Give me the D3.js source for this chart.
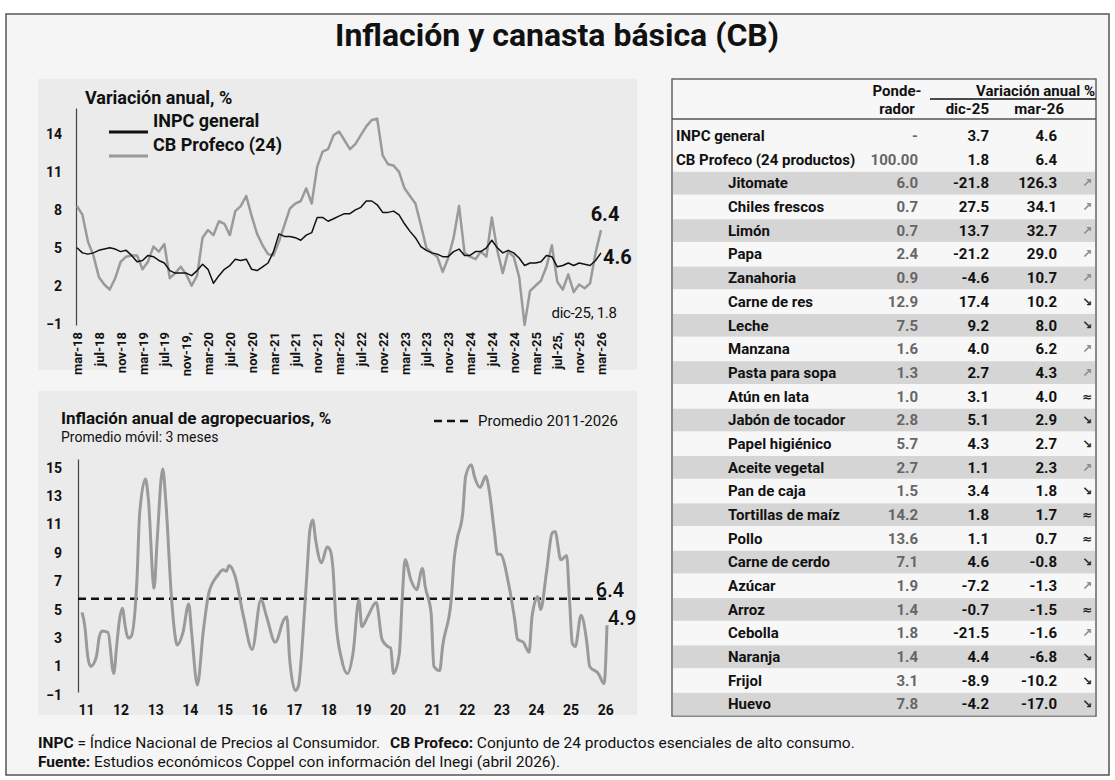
<!DOCTYPE html>
<html>
<head>
<meta charset="utf-8">
<script src="https://cdn.jsdelivr.net/npm/d3@7"></script>
<style>
  body { margin: 0; background: #fff; }
  text { font-family: Roboto, "Noto Sans", sans-serif; }
</style>
</head>
<body>
<div id="chart"></div>
<script>
// ---- data: variación anual INPC y CB Profeco, mar-18 .. mar-26 (mensual)
var inpc = [5.0, 4.6, 4.5, 4.6, 4.8, 4.9, 5.0, 4.9, 4.7, 4.8,
  4.4, 3.9, 4.0, 4.4, 4.3, 4.0, 3.8, 3.2, 3.0, 3.0, 3.0, 2.8,
  3.2, 3.7, 3.3, 2.2, 2.8, 3.3, 3.6, 4.1, 4.0, 4.1, 3.3, 3.2,
  3.5, 3.8, 4.7, 6.1, 5.9, 5.9, 5.8, 5.6, 6.0, 6.2, 7.4, 7.4,
  7.1, 7.3, 7.5, 7.7, 7.7, 8.0, 8.2, 8.7, 8.7, 8.4, 7.8, 7.8,
  7.9, 7.6, 6.9, 6.3, 5.8, 5.1, 4.8, 4.6, 4.5, 4.3, 4.3, 4.7,
  4.9, 4.4, 4.4, 4.7, 4.7, 5.0, 5.6, 5.0, 4.6, 4.8, 4.6, 4.2,
  3.6, 3.8, 3.8, 3.9, 4.4, 4.3, 3.5, 3.6, 3.8, 3.6, 3.8, 3.7,
  3.6, 4.0, 4.6];

var cbProfeco = [8.3, 7.6, 5.5, 4.4, 2.7, 2.1, 1.7, 2.6, 3.9, 4.3,
  4.4, 4.4, 3.3, 3.9, 5.1, 4.7, 5.3, 2.6, 3.0, 3.5, 2.9, 2.0,
  2.8, 5.8, 6.4, 6.0, 7.1, 6.9, 6.0, 7.9, 8.3, 9.1, 7.5, 6.1,
  5.2, 4.5, 4.4, 5.5, 6.8, 8.1, 8.5, 8.7, 9.7, 8.5, 11.4, 12.6,
  12.8, 13.9, 14.2, 13.5, 12.8, 13.2, 13.9, 14.6, 15.1, 15.2, 12.3, 11.6,
  11.5, 11.0, 9.7, 9.1, 8.5, 6.8, 5.0, 4.6, 4.3, 3.1, 4.2, 5.8,
  8.3, 4.6, 4.3, 4.1, 4.7, 4.3, 7.4, 4.8, 3.0, 4.7, 4.3, 2.7,
  -1.1, 1.6, 2.0, 2.4, 3.5, 5.2, 2.3, 1.7, 2.9, 1.5, 2.1, 1.8,
  2.2, 4.6, 6.4];

var monthLabels = ['mar-18', 'jul-18', 'nov-18', 'mar-19', 'jul-19', 'nov-19,', 'mar-20',
  'jul-20', 'nov-20', 'mar-21', 'jul-21', 'nov-21', 'mar-22', 'jul-22', 'nov-22',
  'mar-23', 'jul-23', 'nov-23', 'mar-24', 'jul-24', 'nov-24', 'mar-25', 'jul-25,',
  'nov-25', 'mar-26'];
var topTicks = [-1, 2, 5, 8, 11, 14];

// ---- data: inflación agropecuaria (prom. móvil 3m), meses desde ene-2011
var agroMonth = [0, 1, 2, 3, 5, 6, 7, 9, 11, 12, 13, 14, 15, 16, 17, 19, 20, 22, 23, 25,
  26, 28, 29, 31, 32, 33, 35, 37, 38, 40, 42, 44, 47, 49, 50, 51, 53, 56, 59, 62,
  64, 67, 70, 71, 72, 74, 75, 77, 78, 79, 80, 81, 83, 85, 86, 87, 88, 90, 92, 94,
  96, 97, 99, 102, 104, 106, 107, 108, 110, 111, 112, 114, 116, 118, 119, 121, 122, 124, 125, 128,
  129, 130, 132, 133, 135, 136, 138, 140, 141, 143, 144, 145, 148, 150, 151, 153, 155, 156, 158, 159,
  161, 163, 164, 166, 168, 169, 170, 171, 173, 175, 176, 179, 181, 182];
var agroValue = [4.8, 3.8, 1.7, 1.0, 1.7, 3.1, 3.5, 3.4, 0.5, 2.4, 4.3, 5.1, 3.8, 3.0, 3.1, 6.9, 11.8, 14.2, 12.8, 6.5,
  9.7, 14.9, 12.8, 5.9, 3.6, 2.5, 3.4, 5.4, 3.4, -0.3, 3.4, 6.2, 7.4, 7.8, 7.7, 8.1, 7.4, 4.5, 2.2, 5.7,
  4.5, 2.7, 4.3, 4.5, 1.5, -0.7, -0.4, 4.5, 7.6, 10.6, 11.3, 9.9, 8.3, 9.4, 9.2, 7.9, 4.3, 1.5, 0.5, 2.0,
  5.7, 3.8, 4.5, 5.5, 2.9, 2.4, 2.3, 0.5, 1.9, 5.7, 8.5, 7.1, 6.4, 7.9, 6.6, 4.8, 1.0, 0.7, 2.4, 5.7,
  8.5, 9.9, 11.8, 14.4, 15.2, 14.4, 13.6, 14.4, 13.6, 10.4, 8.9, 8.9, 6.7, 4.3, 2.9, 2.7, 2.0, 4.5, 5.9, 5.0,
  7.6, 10.4, 10.5, 8.5, 8.8, 5.7, 2.6, 2.4, 4.6, 2.7, 1.0, 0.5, -0.2, 3.9];
var agroAverage = 5.77;
var yearLabels = ['11', '12', '13', '14', '15', '16', '17', '18', '19', '20', '21', '22', '23', '24', '25', '26'];
var bottomTicks = [-1, 1, 3, 5, 7, 9, 11, 13, 15];

// ---- data: tabla
var products = ['INPC general', 'CB Profeco (24 productos)', 'Jitomate', 'Chiles frescos', 'Limón', 'Papa',
  'Zanahoria', 'Carne de res', 'Leche', 'Manzana', 'Pasta para sopa', 'Atún en lata', 'Jabón de tocador',
  'Papel higiénico', 'Aceite vegetal', 'Pan de caja', 'Tortillas de maíz', 'Pollo', 'Carne de cerdo',
  'Azúcar', 'Arroz', 'Cebolla', 'Naranja', 'Frijol', 'Huevo'];
var weights = ['-', '100.00', '6.0', '0.7', '0.7', '2.4', '0.9', '12.9', '7.5', '1.6', '1.3', '1.0', '2.8',
  '5.7', '2.7', '1.5', '14.2', '13.6', '7.1', '1.9', '1.4', '1.8', '1.4', '3.1', '7.8'];
var dic25 = [3.7, 1.8, -21.8, 27.5, 13.7, -21.2, -4.6, 17.4, 9.2, 4.0, 2.7, 3.1, 5.1, 4.3, 1.1, 3.4,
  1.8, 1.1, 4.6, -7.2, -0.7, -21.5, 4.4, -8.9, -4.2];
var mar26 = [4.6, 6.4, 126.3, 34.1, 32.7, 29.0, 10.7, 10.2, 8.0, 6.2, 4.3, 4.0, 2.9, 2.7, 2.3, 1.8,
  1.7, 0.7, -0.8, -1.3, -1.5, -1.6, -6.8, -10.2, -17.0];
var trend = ['', '', '↗', '↗', '↗', '↗', '↗', '↘', '↘', '↗', '↗', '≈', '↘', '↘', '↗', '↘',
  '≈', '≈', '↘', '↗', '≈', '↗', '↘', '↘', '↘'];

var fmt = function(v) { return d3.format('.1f')(v).replace('−', '-'); };

var svg = d3.select('#chart').append('svg')
  .attr('width', 1115)
  .attr('height', 780);

// frame + title
svg.append('rect')
  .attr('x', 6).attr('y', 14).attr('width', 1103).attr('height', 761)
  .style('fill', '#f5f5f5').style('stroke', '#555').style('stroke-width', 1.5);

svg.append('text')
  .attr('x', 557).attr('y', 46)
  .attr('text-anchor', 'middle')
  .style('font-size', '32px').style('font-weight', 'bold').style('fill', '#111')
  .text('Inflación y canasta básica (CB)');

// panels
svg.append('rect').attr('x', 38).attr('y', 79).attr('width', 599).attr('height', 291).style('fill', '#ebebeb');
svg.append('rect').attr('x', 38).attr('y', 391).attr('width', 599).attr('height', 324).style('fill', '#ebebeb');

// ================= top chart
var xTop = d3.scaleLinear().domain([0, 96]).range([77, 601]);
var yTop = d3.scaleLinear().domain([-1.1, 16.05]).range([325, 108]);

var gTop = svg.append('g');

gTop.append('g')
  .attr('transform', 'translate(76,0)')
  .call(d3.axisLeft(yTop).tickValues(topTicks).tickSize(0).tickPadding(14))
  .call(function(g) {
    g.select('.domain').style('stroke', '#444').style('stroke-width', 1.2);
    g.selectAll('text').style('font-size', '14px').style('font-weight', 'bold').style('fill', '#111').style('font-family', 'Roboto');
  });

gTop.append('g')
  .attr('transform', 'translate(0,325)')
  .call(d3.axisBottom(xTop).tickValues(d3.range(0, 97, 4)).tickSize(0)
    .tickFormat(function(d, i) { return monthLabels[i]; }))
  .call(function(g) {
    g.select('.domain').remove();
    g.selectAll('text')
      .attr('transform', 'rotate(-90)')
      .attr('x', -7).attr('y', 0).attr('dy', '0.35em')
      .attr('text-anchor', 'end')
      .style('font-size', '13px').style('font-weight', 'bold').style('fill', '#111').style('font-family', 'Roboto');
  });

var lineTop = d3.line()
  .x(function(d, i) { return xTop(i); })
  .y(function(d) { return yTop(d); });

gTop.append('path').datum(cbProfeco)
  .attr('d', lineTop)
  .style('fill', 'none').style('stroke', '#9a9a9a').style('stroke-width', 2.5).style('stroke-linejoin', 'round');

gTop.append('path').datum(inpc)
  .attr('d', lineTop)
  .style('fill', 'none').style('stroke', '#111').style('stroke-width', 1.5).style('stroke-linejoin', 'round');

gTop.append('text').attr('x', 85).attr('y', 98).attr('dy', '0.35em')
  .style('font-size', '18px').style('font-weight', 'bold').style('fill', '#111')
  .text('Variación anual, %');

// legend
var legendTop = [{label: 'INPC general', color: '#111', y: 121}, {label: 'CB Profeco (24)', color: '#9a9a9a', y: 145}];
gTop.selectAll('.leg-line').data(legendTop).enter().append('line')
  .attr('x1', 109).attr('x2', 148)
  .attr('y1', function(d) { return d.y + 11; }).attr('y2', function(d) { return d.y + 11; })
  .style('stroke', function(d) { return d.color; }).style('stroke-width', 3);
gTop.selectAll('.leg-text').data(legendTop).enter().append('text')
  .attr('x', 153).attr('y', function(d) { return d.y; }).attr('dy', '0.35em')
  .style('font-size', '18px').style('font-weight', 'bold').style('fill', '#111')
  .text(function(d) { return d.label; });

// end labels
var last = inpc.length - 1;
gTop.append('text').attr('x', xTop(last) + 4).attr('y', yTop(cbProfeco[last]) - 16).attr('dy', '0.35em')
  .attr('text-anchor', 'middle')
  .style('font-size', '20px').style('font-weight', 'bold').style('fill', '#111')
  .text(fmt(cbProfeco[last]));
gTop.append('text').attr('x', xTop(last) + 2).attr('y', yTop(inpc[last]) + 4).attr('dy', '0.35em')
  .style('font-size', '20px').style('font-weight', 'bold').style('fill', '#111')
  .text(fmt(inpc[last]));
gTop.append('text').attr('x', xTop(93) + 32).attr('y', yTop(cbProfeco[93]) + 24).attr('dy', '0.35em')
  .attr('text-anchor', 'end')
  .style('font-size', '15px').style('fill', '#111').style('letter-spacing', '-0.3px')
  .text('dic-25, ' + fmt(cbProfeco[93]));

// ================= bottom chart
var xBot = d3.scaleLinear().domain([0, 182]).range([82, 607]);
var yBot = d3.scaleLinear().domain([-0.8, 15.6]).range([692, 459]);

var gBot = svg.append('g');

gBot.append('g')
  .attr('transform', 'translate(78,0)')
  .call(d3.axisLeft(yBot).tickValues(bottomTicks).tickSize(0).tickPadding(16))
  .call(function(g) {
    g.select('.domain').style('stroke', '#444').style('stroke-width', 1.2);
    g.selectAll('text').style('font-size', '14px').style('font-weight', 'bold').style('fill', '#111').style('font-family', 'Roboto');
  });

gBot.append('g')
  .attr('transform', 'translate(0,692)')
  .call(d3.axisBottom(xBot).tickValues(d3.range(0, 181, 12)).tickSize(0)
    .tickFormat(function(d, i) { return yearLabels[i]; }))
  .call(function(g) {
    g.select('.domain').remove();
    g.selectAll('text')
      .attr('x', 4).attr('y', 18).attr('dy', '0.35em')
      .style('font-size', '14px').style('font-weight', 'bold').style('fill', '#111').style('font-family', 'Roboto');
  });

gBot.append('line')
  .attr('x1', 78).attr('x2', xBot(182))
  .attr('y1', yBot(agroAverage)).attr('y2', yBot(agroAverage))
  .style('stroke', '#111').style('stroke-width', 2.5).style('stroke-dasharray', '8,5');

var lineBot = d3.line()
  .x(function(d, i) { return xBot(agroMonth[i]); })
  .y(function(d) { return yBot(d); })
  .curve(d3.curveMonotoneX);

gBot.append('path').datum(agroValue)
  .attr('d', lineBot)
  .style('fill', 'none').style('stroke', '#9a9a9a').style('stroke-width', 3).style('stroke-linejoin', 'round');

gBot.append('text').attr('x', 61).attr('y', 418).attr('dy', '0.35em')
  .style('font-size', '17px').style('font-weight', 'bold').style('fill', '#111')
  .text('Inflación anual de agropecuarios, %');
gBot.append('text').attr('x', 61).attr('y', 437).attr('dy', '0.35em')
  .style('font-size', '14px').style('fill', '#111')
  .text('Promedio móvil: 3 meses');

gBot.append('line').attr('x1', 434).attr('x2', 473).attr('y1', 421).attr('y2', 421)
  .style('stroke', '#111').style('stroke-width', 2.5).style('stroke-dasharray', '8,5');
gBot.append('text').attr('x', 478).attr('y', 421).attr('dy', '0.35em')
  .style('font-size', '15px').style('fill', '#111')
  .text('Promedio 2011-2026');

gBot.append('text').attr('x', xBot(182) + 3).attr('y', yBot(agroAverage) - 9).attr('dy', '0.35em')
  .attr('text-anchor', 'middle')
  .style('font-size', '20px').style('font-weight', 500).style('fill', '#111')
  .text('6.4');
gBot.append('text').attr('x', xBot(182) + 1).attr('y', yBot(agroValue[agroValue.length - 1]) - 7).attr('dy', '0.35em')
  .style('font-size', '20px').style('font-weight', 500).style('fill', '#111')
  .text('4.9');

// ================= table
var yRow = d3.scaleBand().domain(d3.range(products.length)).range([124, 716]);
var gTab = svg.append('g');

gTab.append('rect')
  .attr('x', 672).attr('y', 79).attr('width', 424).attr('height', 637)
  .style('fill', '#f7f7f7').style('stroke', '#666').style('stroke-width', 1.5);

gTab.selectAll('.band')
  .data(d3.range(products.length).filter(function(i) { return i >= 2 && i % 2 === 0; }))
  .enter().append('rect')
  .attr('x', 673).attr('width', 422)
  .attr('y', function(i) { return yRow(i) + 0.5; })
  .attr('height', yRow.bandwidth() - 1)
  .style('fill', '#d5d5d5');

gTab.append('line').attr('x1', 930).attr('x2', 1096).attr('y1', 99).attr('y2', 99)
  .style('stroke', '#111').style('stroke-width', 1.5);
gTab.append('line').attr('x1', 672).attr('x2', 1096).attr('y1', 119).attr('y2', 119)
  .style('stroke', '#555').style('stroke-width', 1.5);

var headers = [
  {text: 'Ponde-', x: 897, y: 91, anchor: 'middle'},
  {text: 'rador', x: 897, y: 109, anchor: 'middle'},
  {text: 'Variación anual %', x: 1095, y: 91, anchor: 'end'},
  {text: 'dic-25', x: 989, y: 109, anchor: 'end'},
  {text: 'mar-26', x: 1064, y: 109, anchor: 'end'}
];
gTab.selectAll('.hdr').data(headers).enter().append('text')
  .attr('x', function(d) { return d.x; }).attr('y', function(d) { return d.y; }).attr('dy', '0.35em')
  .attr('text-anchor', function(d) { return d.anchor; })
  .style('font-size', '15px').style('font-weight', 'bold').style('fill', '#111')
  .text(function(d) { return d.text; });

var rows = gTab.selectAll('.row').data(products).enter().append('g')
  .attr('transform', function(d, i) { return 'translate(0,' + (yRow(i) + yRow.bandwidth() / 2) + ')'; });

rows.append('text')
  .attr('x', function(d, i) { return i < 2 ? 676 : 728; }).attr('dy', '0.35em')
  .style('font-size', '15px').style('font-weight', 'bold').style('fill', '#111')
  .text(function(d) { return d; });
rows.append('text')
  .attr('x', 918).attr('dy', '0.35em').attr('text-anchor', 'end')
  .style('font-size', '15px').style('font-weight', 'bold').style('fill', '#666')
  .text(function(d, i) { return weights[i]; });
rows.append('text')
  .attr('x', 989).attr('dy', '0.35em').attr('text-anchor', 'end')
  .style('font-size', '15px').style('font-weight', 'bold').style('fill', '#111')
  .text(function(d, i) { return fmt(dic25[i]); });
rows.append('text')
  .attr('x', 1057).attr('dy', '0.35em').attr('text-anchor', 'end')
  .style('font-size', '15px').style('font-weight', 'bold').style('fill', '#111')
  .text(function(d, i) { return fmt(mar26[i]); });
rows.append('text')
  .attr('x', 1087).attr('dy', '0.35em').attr('text-anchor', 'middle')
  .style('font-size', '12px').style('font-family', 'DejaVu Sans').style('font-weight', 'bold')
  .style('fill', function(d, i) { return trend[i] === '↗' ? '#888' : '#222'; })
  .text(function(d, i) { return trend[i]; });

// ================= footer
var foot1 = svg.append('text').attr('x', 38).attr('y', 743).attr('dy', '0.35em')
  .style('font-size', '15.5px').style('fill', '#111');
foot1.append('tspan').style('font-weight', 'bold').text('INPC');
foot1.append('tspan').text(' = Índice Nacional de Precios al Consumidor.');
foot1.append('tspan').attr('dx', 10).style('font-weight', 'bold').text('CB Profeco:');
foot1.append('tspan').text(' Conjunto de 24 productos esenciales de alto consumo.');

var foot2 = svg.append('text').attr('x', 38).attr('y', 762).attr('dy', '0.35em')
  .style('font-size', '15.5px').style('fill', '#111');
foot2.append('tspan').style('font-weight', 'bold').text('Fuente:');
foot2.append('tspan').text(' Estudios económicos Coppel con información del Inegi (abril 2026).');
</script>
</body>
</html>
